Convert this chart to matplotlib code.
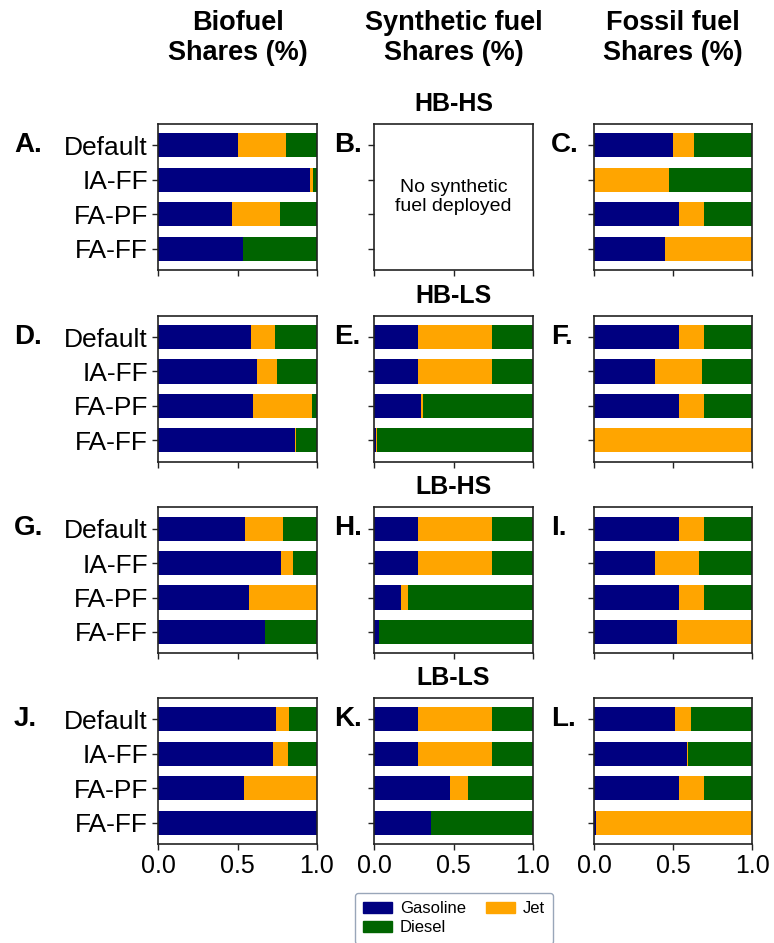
#!/usr/bin/env python3
"""Fuel product shares (gasoline / jet / diesel) by fuel type, scenario and policy case."""

from __future__ import annotations

import matplotlib

matplotlib.use("Agg")
import matplotlib.pyplot as plt
from matplotlib.patches import Patch

plt.rcParams["font.family"] = ["Liberation Sans", "DejaVu Sans"]

OUTPUT = "out.png"

SCENARIOS = ["HB-HS", "HB-LS", "LB-HS", "LB-LS"]
CASES = ["Default", "IA-FF", "FA-PF", "FA-FF"]
FUEL_HEADERS = ["Biofuel\nShares (%)", "Synthetic fuel\nShares (%)", "Fossil fuel\nShares (%)"]
PANEL_LETTERS = ["A.", "B.", "C.", "D.", "E.", "F.", "G.", "H.", "I.", "J.", "K.", "L."]
PRODUCTS = ["Gasoline", "Jet", "Diesel"]

# one row per scenario, one value per case
biofuel_gasoline = [
    [0.500, 0.958, 0.468, 0.537],
    [0.583, 0.621, 0.600, 0.863],
    [0.547, 0.775, 0.573, 0.676],
    [0.741, 0.724, 0.541, 1.000],
]
biofuel_jet = [
    [0.307, 0.017, 0.301, 0.000],
    [0.156, 0.131, 0.368, 0.004],
    [0.242, 0.073, 0.427, 0.000],
    [0.086, 0.093, 0.459, 0.000],
]
biofuel_diesel = [
    [0.193, 0.025, 0.231, 0.463],
    [0.261, 0.248, 0.032, 0.133],
    [0.211, 0.152, 0.000, 0.324],
    [0.173, 0.183, 0.000, 0.000],
]

# synthetic fuel is not built at all in HB-HS
synthetic_gasoline = [
    None,
    [0.276, 0.276, 0.297, 0.008],
    [0.276, 0.276, 0.168, 0.029],
    [0.276, 0.276, 0.476, 0.358],
]
synthetic_jet = [
    None,
    [0.467, 0.467, 0.012, 0.007],
    [0.467, 0.467, 0.047, 0.000],
    [0.467, 0.467, 0.113, 0.000],
]
synthetic_diesel = [
    None,
    [0.257, 0.257, 0.691, 0.985],
    [0.257, 0.257, 0.785, 0.971],
    [0.257, 0.257, 0.411, 0.642],
]

fossil_gasoline = [
    [0.497, 0.000, 0.539, 0.450],
    [0.539, 0.383, 0.539, 0.000],
    [0.539, 0.387, 0.539, 0.524],
    [0.514, 0.586, 0.539, 0.013],
]
fossil_jet = [
    [0.135, 0.471, 0.154, 0.550],
    [0.154, 0.298, 0.154, 1.000],
    [0.154, 0.279, 0.154, 0.476],
    [0.101, 0.008, 0.154, 0.987],
]
fossil_diesel = [
    [0.368, 0.529, 0.307, 0.000],
    [0.307, 0.319, 0.307, 0.000],
    [0.307, 0.334, 0.307, 0.000],
    [0.385, 0.406, 0.307, 0.000],
]

COLORS = {"Gasoline": "navy", "Jet": "orange", "Diesel": "darkgreen"}

FIG_W, FIG_H = 774, 943
COL_LEFT = [158.3, 374.3, 594.0]
AX_W = 158.4
ROW_TOP = [124.0, 315.7, 507.3, 698.0]
AX_H = 146.0
LETTER_X = [14, 334, 551]


def _stack(ax, gasoline, jet, diesel):
    y = range(len(CASES))
    left = [0.0] * len(CASES)
    for name, values in zip(PRODUCTS, (gasoline, jet, diesel)):
        ax.barh(y, values, left=left, height=0.7, color=COLORS[name], linewidth=0)
        left = [a + b for a, b in zip(left, values)]


def main() -> None:
    fig = plt.figure(figsize=(FIG_W / 100, FIG_H / 100), dpi=100)

    fuels = [
        (biofuel_gasoline, biofuel_jet, biofuel_diesel),
        (synthetic_gasoline, synthetic_jet, synthetic_diesel),
        (fossil_gasoline, fossil_jet, fossil_diesel),
    ]

    for c, header in enumerate(FUEL_HEADERS):
        fig.text((COL_LEFT[c] + AX_W / 2) / FIG_W, 1 - 38 / FIG_H, header,
                 ha="center", va="center", fontsize=19.5, fontweight="bold", linespacing=1.25)

    for r, scenario in enumerate(SCENARIOS):
        fig.text((COL_LEFT[1] + AX_W / 2) / FIG_W, 1 - (ROW_TOP[r] - 20) / FIG_H, scenario,
                 ha="center", va="center", fontsize=18, fontweight="bold")
        for c, (gas, jet, dsl) in enumerate(fuels):
            rect = [COL_LEFT[c] / FIG_W, 1 - (ROW_TOP[r] + AX_H) / FIG_H, AX_W / FIG_W, AX_H / FIG_H]
            ax = fig.add_axes(rect)
            if gas[r] is None:
                ax.text(0.5, 0.5, "No synthetic\nfuel deployed", transform=ax.transAxes,
                        ha="center", va="center", fontsize=14)
            else:
                _stack(ax, gas[r], jet[r], dsl[r])
            ax.set_xlim(0, 1)
            ax.set_ylim(3.62, -0.62)
            ax.set_yticks(range(len(CASES)))
            ax.set_xticks([0.0, 0.5, 1.0])
            if c == 0:
                ax.set_yticklabels(CASES, fontsize=19)
            else:
                ax.set_yticklabels([])
            if r == len(SCENARIOS) - 1:
                ax.set_xticklabels(["0.0", "0.5", "1.0"], fontsize=18)
            else:
                ax.set_xticklabels([])
            ax.tick_params(length=4, width=1, color="#222222")
            for spine in ax.spines.values():
                spine.set_color("#222222")
                spine.set_linewidth(1.2)

            fig.text(LETTER_X[c] / FIG_W, 1 - (ROW_TOP[r] + 21) / FIG_H, PANEL_LETTERS[r * 3 + c],
                     ha="left", va="center", fontsize=20, fontweight="bold")

    handles = [Patch(color=COLORS[name], label=name) for name in ("Gasoline", "Diesel", "Jet")]
    fig.legend(handles=handles, ncol=2, loc="upper center",
               bbox_to_anchor=(454 / FIG_W, 1 - 893 / FIG_H), fontsize=12,
               frameon=True, fancybox=True, edgecolor="#8090a8",
               handlelength=1.75, handleheight=0.65, handletextpad=0.45,
               labelspacing=0.25, columnspacing=1.2, borderpad=0.5, borderaxespad=0)

    fig.savefig(OUTPUT, dpi=100)
    plt.close(fig)


if __name__ == "__main__":
    main()
